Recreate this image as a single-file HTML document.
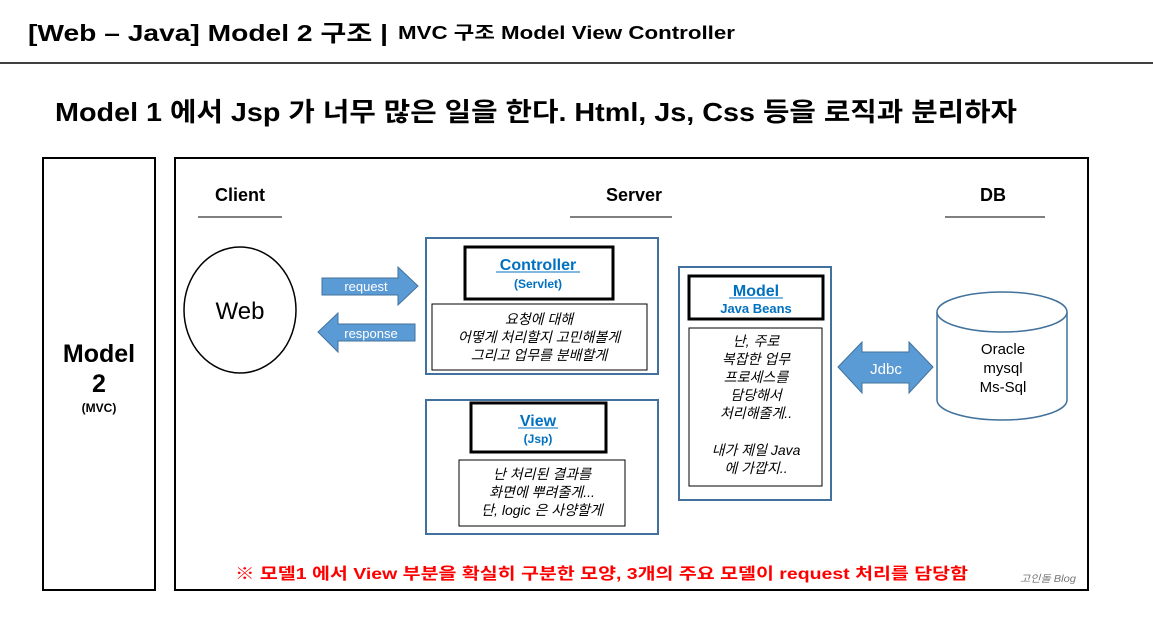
<!DOCTYPE html>
<html><head><meta charset="utf-8"><style>
html,body{margin:0;padding:0;background:#fff;width:1153px;height:633px;overflow:hidden}
text{font-family:"Liberation Sans","Noto Sans CJK KR",sans-serif}
</style></head><body>
<svg width="1153" height="633" viewBox="0 0 1153 633" xmlns="http://www.w3.org/2000/svg">
<text x="28" y="41" font-size="23" font-weight="bold" textLength="360" lengthAdjust="spacingAndGlyphs">[Web – Java] Model 2 구조 |</text>
<text x="398" y="39" font-size="18" font-weight="bold" textLength="337" lengthAdjust="spacingAndGlyphs">MVC 구조  Model View Controller</text>
<line x1="0" y1="63" x2="1153" y2="63" stroke="#000" stroke-width="1.5"/>
<text x="55" y="121" font-size="26" font-weight="bold" textLength="962" lengthAdjust="spacingAndGlyphs">Model 1 에서 Jsp 가 너무 많은 일을 한다. Html, Js, Css 등을 로직과 분리하자</text>

<rect x="43" y="158" width="112" height="432" fill="none" stroke="#000" stroke-width="2"/>
<text x="99" y="362" font-size="25" font-weight="bold" text-anchor="middle">Model</text>
<text x="99" y="392" font-size="25" font-weight="bold" text-anchor="middle">2</text>
<text x="99" y="412" font-size="12" font-weight="bold" text-anchor="middle">(MVC)</text>

<rect x="175" y="158" width="913" height="432" fill="none" stroke="#000" stroke-width="2"/>
<text x="240" y="201" font-size="18" font-weight="bold" text-anchor="middle">Client</text>
<line x1="198" y1="217" x2="282" y2="217" stroke="#000"/>
<text x="634" y="201" font-size="18" font-weight="bold" text-anchor="middle">Server</text>
<line x1="570" y1="217" x2="672" y2="217" stroke="#000"/>
<text x="993" y="201" font-size="18" font-weight="bold" text-anchor="middle">DB</text>
<line x1="945" y1="217" x2="1045" y2="217" stroke="#000"/>

<ellipse cx="240" cy="310" rx="56" ry="63" fill="#fff" stroke="#000" stroke-width="1.5"/>
<text x="240" y="319" font-size="24" text-anchor="middle">Web</text>

<polygon points="322,278 398,278 398,267 418,286 398,305 398,295 322,295" fill="#5b9bd5" stroke="#41719c"/>
<text x="366" y="291" font-size="13" fill="#fff" text-anchor="middle">request</text>
<polygon points="415,324 338,324 338,313 318,332 338,352 338,341 415,341" fill="#5b9bd5" stroke="#41719c"/>
<text x="371" y="338" font-size="13" fill="#fff" text-anchor="middle">response</text>

<rect x="426" y="238" width="232" height="136" fill="none" stroke="#41719c" stroke-width="2"/>
<rect x="465" y="247" width="148" height="52" fill="none" stroke="#000" stroke-width="3"/>
<text x="538" y="270" font-size="16" font-weight="bold" fill="#0070c0" text-anchor="middle">Controller</text>
<line x1="496" y1="272" x2="580" y2="272" stroke="#0070c0"/>
<text x="538" y="288" font-size="12" font-weight="bold" fill="#0070c0" text-anchor="middle">(Servlet)</text>
<rect x="432" y="304" width="215" height="66" fill="none" stroke="#000"/>
<g font-size="14" font-style="italic" text-anchor="middle">
<text x="539" y="324">요청에 대해</text>
<text x="539" y="342">어떻게 처리할지 고민해볼게</text>
<text x="539" y="360">그리고 업무를 분배할게</text>
</g>

<rect x="426" y="400" width="232" height="134" fill="none" stroke="#41719c" stroke-width="2"/>
<rect x="471" y="403" width="135" height="49" fill="none" stroke="#000" stroke-width="3"/>
<text x="538" y="426" font-size="16" font-weight="bold" fill="#0070c0" text-anchor="middle">View</text>
<line x1="518" y1="428" x2="558" y2="428" stroke="#0070c0"/>
<text x="538" y="443" font-size="12" font-weight="bold" fill="#0070c0" text-anchor="middle">(Jsp)</text>
<rect x="459" y="460" width="166" height="66" fill="none" stroke="#000"/>
<g font-size="14" font-style="italic" text-anchor="middle">
<text x="542" y="479">난 처리된 결과를</text>
<text x="542" y="497">화면에 뿌려줄게...</text>
<text x="542" y="515">단, logic 은 사양할게</text>
</g>

<rect x="679" y="267" width="152" height="233" fill="none" stroke="#41719c" stroke-width="2"/>
<rect x="689" y="276" width="134" height="43" fill="none" stroke="#000" stroke-width="3"/>
<text x="756" y="296" font-size="16" font-weight="bold" fill="#0070c0" text-anchor="middle">Model</text>
<line x1="729" y1="298" x2="783" y2="298" stroke="#0070c0"/>
<text x="756" y="313" font-size="13" font-weight="bold" fill="#0070c0" text-anchor="middle">Java Beans</text>
<rect x="689" y="328" width="133" height="158" fill="none" stroke="#000"/>
<g font-size="14" font-style="italic" text-anchor="middle">
<text x="756" y="346">난, 주로</text>
<text x="756" y="364">복잡한 업무</text>
<text x="756" y="382">프로세스를</text>
<text x="756" y="400">담당해서</text>
<text x="756" y="418">처리해줄게..</text>
<text x="756" y="455">내가 제일 Java</text>
<text x="756" y="473">에 가깝지..</text>
</g>

<polygon points="838,367 862,342 862,352 909,352 909,342 933,367 909,393 909,383 862,383 862,393" fill="#5b9bd5" stroke="#41719c"/>
<text x="886" y="374" font-size="15" fill="#fff" text-anchor="middle">Jdbc</text>

<path d="M937,312 L937,400 A65,20 0 0 0 1067,400 L1067,312" fill="#fff" stroke="#41719c" stroke-width="1.5"/>
<ellipse cx="1002" cy="312" rx="65" ry="20" fill="#fff" stroke="#41719c" stroke-width="1.5"/>
<g font-size="15" text-anchor="middle">
<text x="1003" y="354">Oracle</text>
<text x="1003" y="373">mysql</text>
<text x="1003" y="392">Ms-Sql</text>
</g>

<text x="235" y="579" font-size="16" font-weight="bold" fill="#ff0000" textLength="733" lengthAdjust="spacingAndGlyphs">※ 모델1 에서 View 부분을 확실히 구분한 모양, 3개의 주요 모델이 request 처리를 담당함</text>
<text x="1020" y="582" font-size="10" font-style="italic" fill="#777" textLength="56" lengthAdjust="spacingAndGlyphs">고인돌 Blog</text>
</svg>
</body></html>
